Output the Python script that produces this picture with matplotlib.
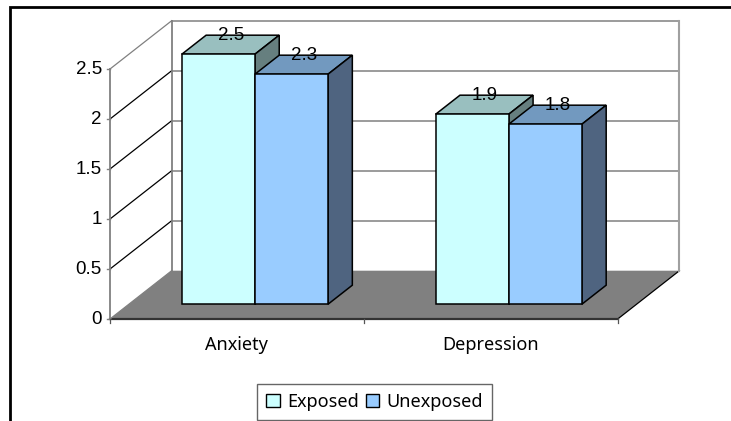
import matplotlib
matplotlib.use('Agg')
from matplotlib import pyplot as plt
from matplotlib.patches import Polygon, Rectangle

categories = ['Anxiety', 'Depression']
series_names = ['Exposed', 'Unexposed']
exposed = [2.5, 1.9]
unexposed = [2.3, 1.8]
y_ticks = [0, 0.5, 1, 1.5, 2, 2.5]
y_tick_labels = ['0', '0.5', '1', '1.5', '2', '2.5']

FRONT_COLORS = ['#CCFFFF', '#99CCFF']
TOP_COLORS = ['#99BFBF', '#7299BF']
SIDE_COLORS = ['#667F7F', '#4F6480']

# chart box in pixels, the 3d look is done by hand with a shear
X0, Y0 = 110.0, 319.0
PLOT_W = 507.7
UNIT_H = 100.0
DEPTH_X, DEPTH_Y = 61.7, 48.3

# bar layout as fractions of a category slot / of the floor depth
BAR_LEFT = 0.2085
BAR_W = 0.288
BAR_D0 = 0.306
BAR_D1 = 0.70

LABEL_FONT = 'Liberation Sans'
TEXT_FONT = 'Noto Sans'


def project(x, y, d=0.0):
    # x in category slots, y in value units, d in floor depth (0 front, 1 back)
    return (X0 + x * PLOT_W / len(categories) + d * DEPTH_X,
            Y0 - y * UNIT_H - d * DEPTH_Y)


def draw_bar(ax, x, value, front, top, side):
    w = BAR_W
    ax.add_patch(Polygon([project(x, value, BAR_D0), project(x + w, value, BAR_D0),
                          project(x + w, value, BAR_D1), project(x, value, BAR_D1)],
                         fc=top, ec='black', lw=1.1, zorder=3))
    ax.add_patch(Polygon([project(x + w, 0, BAR_D0), project(x + w, 0, BAR_D1),
                          project(x + w, value, BAR_D1), project(x + w, value, BAR_D0)],
                         fc=side, ec='black', lw=1.1, zorder=3))
    ax.add_patch(Polygon([project(x, 0, BAR_D0), project(x + w, 0, BAR_D0),
                          project(x + w, value, BAR_D0), project(x, value, BAR_D0)],
                         fc=front, ec='black', lw=1.1, zorder=4))
    # value sits on the back edge of the bar top
    lx, ly = project(x + w / 2, value, BAR_D1)
    ax.text(lx - 11.5, ly, f'{value:g}', ha='center', va='center', fontsize=13.5,
            family=LABEL_FONT, color='black', zorder=6)


def main():
    fig = plt.figure(figsize=(7.31, 4.21), dpi=100)
    ax = fig.add_axes([0, 0, 1, 1])
    ax.set_xlim(0, 731)
    ax.set_ylim(421, 0)
    ax.axis('off')

    # outer frame, only left and top edges are in view
    ax.plot([10, 10, 731], [421, 6.5, 6.5], color='black', lw=2, zorder=1,
            solid_joinstyle='miter')

    n = len(categories)
    top_value = y_ticks[-1]

    # floor
    ax.add_patch(Polygon([project(0, 0), project(n, 0), project(n, 0, 1), project(0, 0, 1)],
                         fc='#808080', ec='none', zorder=1))
    ax.plot(*zip(project(n, 0), project(n, 0, 1)), color='black', lw=0.9, zorder=2)
    ax.plot(*zip(project(0, 0), project(n, 0)), color='#333333', lw=1.6, zorder=2)

    # walls and grid
    for v in y_ticks[1:]:
        ax.plot(*zip(project(0, v, 1), project(n, v, 1)), color='#808080', lw=1.1, zorder=2)
        c = '#808080' if v == top_value else 'black'
        ax.plot(*zip(project(0, v), project(0, v, 1)), color=c, lw=0.9, zorder=2)
    ax.plot(*zip(project(0, 0, 1), project(0, top_value, 1)), color='#808080', lw=1.3, zorder=2)
    ax.plot(*zip(project(n, 0, 1), project(n, top_value, 1)), color='#A0A0A0', lw=1.5, zorder=2)
    ax.plot(*zip(project(0, 0), project(0, 0, 1)), color='#808080', lw=0.9, zorder=2)

    # value axis
    ax.plot(*zip(project(0, 0), project(0, top_value)), color='#808080', lw=1.3, zorder=3)
    for v, lab in zip(y_ticks, y_tick_labels):
        px, py = project(0, v)
        ax.plot([px - 3.5, px], [py, py], color='#808080', lw=1, zorder=3)
        ax.text(px - 8, py, lab, ha='right', va='center', fontsize=13.5, family=LABEL_FONT)

    # category axis
    for i in range(n + 1):
        px, py = project(i, 0)
        ax.plot([px, px], [py, py + 4], color='#555555', lw=0.9, zorder=3)
    for i, cat in enumerate(categories):
        px, py = project(i + 0.5, 0)
        ax.text(px, py + 26, cat, ha='center', va='center', fontsize=13, family=TEXT_FONT)

    for i in range(n):
        draw_bar(ax, i + BAR_LEFT, exposed[i], FRONT_COLORS[0], TOP_COLORS[0], SIDE_COLORS[0])
        draw_bar(ax, i + BAR_LEFT + BAR_W, unexposed[i], FRONT_COLORS[1], TOP_COLORS[1], SIDE_COLORS[1])

    handles = [Rectangle((0, 0), 1, 1, fc=c, ec='black', lw=1) for c in FRONT_COLORS]
    leg = ax.legend(handles, series_names, loc='center', bbox_to_anchor=(374.5, 402),
                    bbox_transform=ax.transData, ncol=2, frameon=True, fancybox=False,
                    edgecolor='#666666', facecolor='white', framealpha=1,
                    prop={'family': TEXT_FONT, 'size': 13}, handlelength=0.75, handleheight=0.75,
                    handletextpad=0.4, columnspacing=0.4, borderpad=0.5, borderaxespad=0)
    leg.get_frame().set_linewidth(1)
    leg.set_zorder(7)

    fig.savefig('out.png', dpi=100)
    plt.close(fig)


if __name__ == "__main__":
    main()
